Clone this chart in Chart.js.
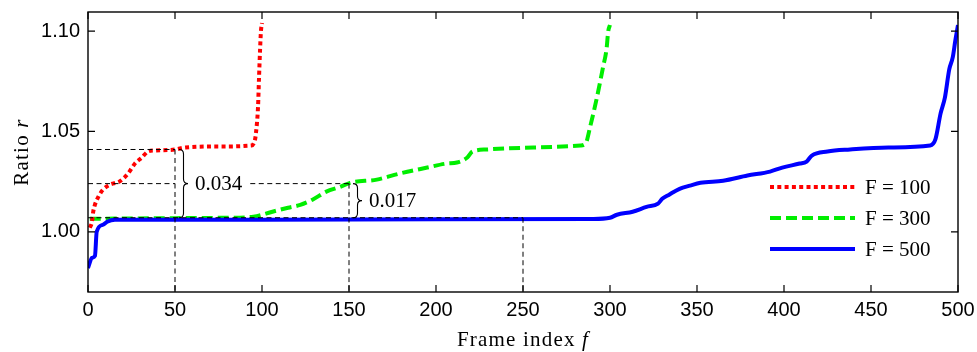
<!DOCTYPE html>
<html><head><meta charset="utf-8">
<script src="https://cdn.jsdelivr.net/npm/chart.js@4"></script>
<style>html,body{margin:0;padding:0;background:#fff}#wrap{width:977px;height:352px}</style>
</head><body><div id="wrap"><canvas id="c" width="977" height="352"></canvas></div>
<script>
// ---- data ----
const framesF100 = [1, 2.3, 3, 4, 6, 8.6, 12.6, 18, 23, 27, 31, 34.5, 38.5, 50, 56, 75, 94, 96, 96.5, 97.7, 98.3, 98.9, 99.4, 100];
const ratiosF100 = [1.002, 1.005, 1.010, 1.0135, 1.0175, 1.021, 1.0235, 1.025, 1.029, 1.034, 1.037, 1.040, 1.0405, 1.041, 1.042, 1.0425, 1.043, 1.046, 1.049, 1.062, 1.077, 1.091, 1.100, 1.104];

const framesF300 = [1, 20, 50, 80, 95, 106, 115, 122, 129, 137, 145, 150.6, 166, 179, 195, 206, 212, 218, 221, 229, 256, 283, 286, 288.5, 292.5, 296, 298, 299, 300];
const ratiosF300 = [1.0065, 1.0066, 1.0068, 1.007, 1.0075, 1.010, 1.012, 1.0134, 1.016, 1.020, 1.0224, 1.0244, 1.026, 1.029, 1.032, 1.034, 1.0345, 1.037, 1.040, 1.041, 1.042, 1.043, 1.044, 1.052, 1.067, 1.082, 1.091, 1.100, 1.103];

const framesF500 = [0, 2.3, 4, 5, 8.6, 11, 15.5, 100, 200, 290, 300, 304, 313, 321, 327.6, 330, 334, 340, 346, 352, 365, 379, 392, 399, 409, 413, 416, 425, 438, 460, 484, 487, 490, 492.5, 495, 497, 498.5, 500];
const ratiosF500 = [0.982, 0.987, 0.988, 1.000, 1.0035, 1.005, 1.006, 1.006, 1.0062, 1.0064, 1.007, 1.0085, 1.010, 1.0124, 1.014, 1.0164, 1.0185, 1.0214, 1.023, 1.0244, 1.0254, 1.028, 1.030, 1.032, 1.034, 1.035, 1.038, 1.040, 1.041, 1.042, 1.043, 1.046, 1.059, 1.067, 1.081, 1.087, 1.0955, 1.103];

const seriesLabels = ['F = 100', 'F = 300', 'F = 500'];
const xTickValues = [0, 50, 100, 150, 200, 250, 300, 350, 400, 450, 500];
const yTickValues = [1.00, 1.05, 1.10];
const guideFrames = [50, 150, 250];
const guideRatios = [1.041, 1.024, 1.007];
const gapLabels = ['0.034', '0.017'];
const xTitleParts = ['Frame index ', 'f'];
const yTitleParts = ['Ratio ', 'r'];

// ---- chart ----
const toPts = (fs, rs) => fs.map((f, i) => ({x: f, y: rs[i]}));
const SERIF = '"Liberation Serif", "Times New Roman", serif';
const SANS = '"Liberation Sans", Arial, sans-serif';

function drawParts(ctx, parts, cx, cy) {
  const fonts = ['21px ' + SERIF, 'italic 21px ' + SERIF];
  ctx.letterSpacing = '1.2px';
  let total = 0;
  const ws = parts.map((p, i) => { ctx.font = fonts[i]; const w = ctx.measureText(p).width; total += w; return w; });
  let x = cx - total / 2;
  ctx.textAlign = 'left';
  ctx.textBaseline = 'alphabetic';
  parts.forEach((p, i) => { ctx.font = fonts[i]; ctx.fillText(p, x, cy); x += ws[i]; });
  ctx.letterSpacing = '0px';
}

function brace(ctx, x, y1, y2, w) {
  const ym = (y1 + y2) / 2, r = w / 2, xm = x + w / 2;
  ctx.beginPath();
  ctx.moveTo(x, y1);
  ctx.quadraticCurveTo(xm, y1, xm, y1 + r);
  ctx.lineTo(xm, ym - r);
  ctx.quadraticCurveTo(xm, ym, x + w, ym);
  ctx.quadraticCurveTo(xm, ym, xm, ym + r);
  ctx.lineTo(xm, y2 - r);
  ctx.quadraticCurveTo(xm, y2, x, y2);
  ctx.stroke();
}

const decor = {
  id: 'decor',
  afterDatasetsDraw(chart) {
    const ctx = chart.ctx, xs = chart.scales.x, ys = chart.scales.y, a = chart.chartArea;
    ctx.save();
    ctx.strokeStyle = '#000'; ctx.fillStyle = '#000';
    ctx.lineWidth = 1; ctx.setLineDash([5, 3.5]);
    ctx.font = '21px ' + SERIF;
    const x0 = xs.getPixelForValue(0);
    guideFrames.forEach((f, i) => {
      const px = xs.getPixelForValue(f), py = ys.getPixelForValue(guideRatios[i]);
      ctx.beginPath();
      if (i === 1) {
        const gapStart = xs.getPixelForValue(guideFrames[0]);
        const gapEnd = gapStart + 4 + 9 + 7 + ctx.measureText(gapLabels[0]).width + 8;
        ctx.moveTo(x0, py); ctx.lineTo(gapStart, py);
        ctx.moveTo(gapEnd, py); ctx.lineTo(px, py);
      } else {
        ctx.moveTo(x0, py); ctx.lineTo(px, py);
      }
      ctx.moveTo(px, py); ctx.lineTo(px, a.bottom);
      ctx.stroke();
    });
    ctx.setLineDash([]);
    ctx.lineWidth = 1.1;
    const yb = ys.getPixelForValue(guideRatios[2]);
    gapLabels.forEach((lab, i) => {
      const px = xs.getPixelForValue(guideFrames[i]) + 4;
      const yt = ys.getPixelForValue(guideRatios[i]);
      brace(ctx, px, yt, yb, 9);
      ctx.textAlign = 'left'; ctx.textBaseline = 'middle';
      ctx.fillText(lab, px + 16, (yt + yb) / 2 + 1);
    });
    // frame and inward ticks
    ctx.lineWidth = 1.4;
    ctx.strokeRect(a.left, a.top, a.right - a.left, a.bottom - a.top);
    ctx.lineWidth = 1.2;
    ctx.beginPath();
    xTickValues.forEach(v => {
      const px = xs.getPixelForValue(v);
      ctx.moveTo(px, a.bottom); ctx.lineTo(px, a.bottom - 7);
      ctx.moveTo(px, a.top); ctx.lineTo(px, a.top + 7);
    });
    yTickValues.forEach(v => {
      const py = ys.getPixelForValue(v);
      ctx.moveTo(a.left, py); ctx.lineTo(a.left + 7, py);
      ctx.moveTo(a.right, py); ctx.lineTo(a.right - 7, py);
    });
    ctx.stroke();
    // legend
    chart.data.datasets.forEach((ds, i) => {
      const ly = a.top + 175 + i * 31;
      ctx.save();
      ctx.strokeStyle = ds.borderColor; ctx.lineWidth = ds.borderWidth;
      ctx.setLineDash(ds.borderDash || []);
      ctx.beginPath(); ctx.moveTo(a.right - 188, ly); ctx.lineTo(a.right - 103, ly); ctx.stroke();
      ctx.restore();
      ctx.font = '21px ' + SERIF; ctx.textAlign = 'left'; ctx.textBaseline = 'middle';
      ctx.fillText(ds.label, a.right - 93, ly + 1);
    });
    // axis titles
    drawParts(ctx, xTitleParts, (a.left + a.right) / 2, 346);
    ctx.save();
    ctx.translate(28, (a.top + a.bottom) / 2);
    ctx.rotate(-Math.PI / 2);
    drawParts(ctx, yTitleParts, 0, 0);
    ctx.restore();
    ctx.restore();
  }
};

new Chart(document.getElementById('c'), {
  type: 'line',
  data: {
    datasets: [
      {label: seriesLabels[0], data: toPts(framesF100, ratiosF100), borderColor: '#ff0000', borderWidth: 4, borderDash: [4, 3.3], order: 1},
      {label: seriesLabels[1], data: toPts(framesF300, ratiosF300), borderColor: '#00ee00', borderWidth: 4, borderDash: [11, 5], order: 2},
      {label: seriesLabels[2], data: toPts(framesF500, ratiosF500), borderColor: '#0000ff', borderWidth: 4, order: 0}
    ]
  },
  options: {
    responsive: false, animation: false, devicePixelRatio: 1,
    layout: {padding: {top: 12, right: 19, left: 0, bottom: 0}},
    elements: {point: {radius: 0}, line: {cubicInterpolationMode: 'monotone', borderCapStyle: 'butt'}},
    plugins: {legend: {display: false}, tooltip: {enabled: false}},
    scales: {
      x: {
        type: 'linear', min: 0, max: 500,
        afterBuildTicks: s => { s.ticks = xTickValues.map(v => ({value: v})); },
        ticks: {color: '#000', font: {family: SANS, size: 20}, padding: 6, maxRotation: 0, autoSkip: false},
        grid: {display: false, drawTicks: false}, border: {display: false},
        afterFit: s => { s.height = 60; s.paddingLeft = 0; s.paddingRight = 0; }
      },
      y: {
        type: 'linear', min: 0.97, max: 1.1095,
        afterBuildTicks: s => { s.ticks = yTickValues.map(v => ({value: v})); },
        ticks: {color: '#000', font: {family: SANS, size: 20}, padding: 8, callback: v => v.toFixed(2)},
        grid: {display: false, drawTicks: false}, border: {display: false},
        afterFit: s => { s.width = 88; s.paddingTop = 0; s.paddingBottom = 0; }
      }
    }
  },
  plugins: [decor]
});
</script>
</body></html>
